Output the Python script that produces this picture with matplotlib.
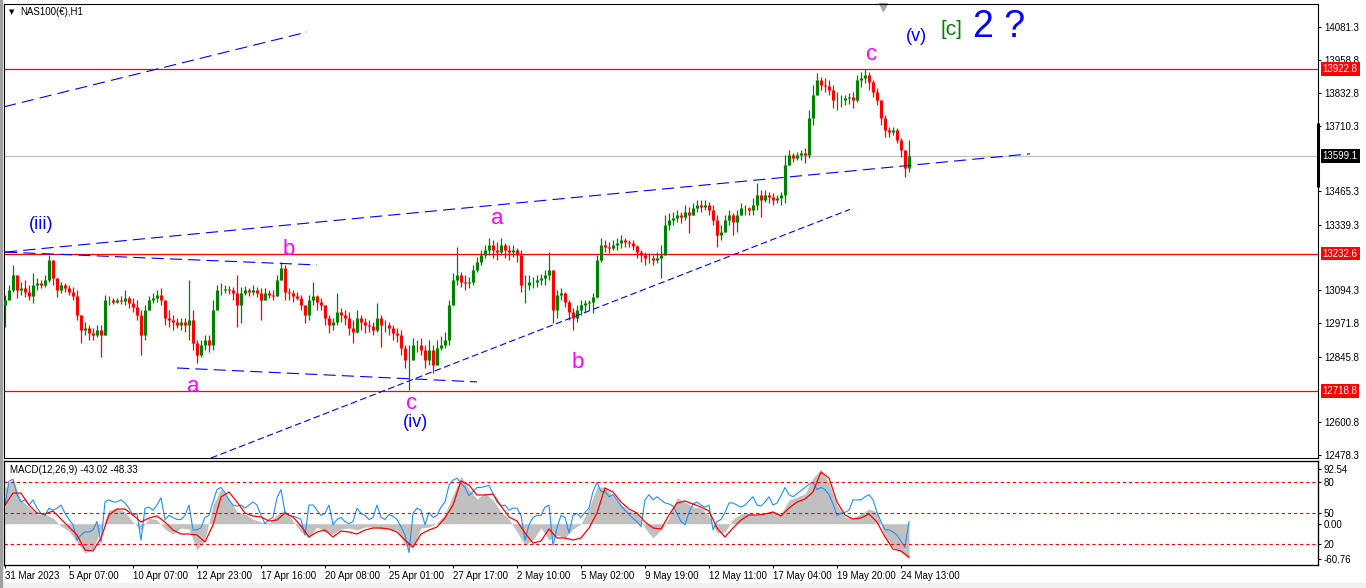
import numpy as np
import matplotlib
matplotlib.use("Agg")
import matplotlib.pyplot as plt
from matplotlib.patches import Rectangle
from matplotlib.transforms import blended_transform_factory

plt.rcParams['font.family'] = ['Liberation Sans', 'DejaVu Sans']

SYMBOL = "NAS100(€),H1"
MACD_TITLE = "MACD(12,26,9) -43.02 -48.33"

# price bars (one bar per slot, hourly NAS100)
FIRST_OPEN = 13040
HIGH = [
    13077, 13115, 13190, 13134, 13126, 13134, 13115, 13160, 13141, 13134,
    13152, 13227, 13208, 13134, 13126, 13122, 13115, 13107, 13096, 12984,
    12976, 12965, 12954, 12965, 12965, 13077, 13074, 13066, 13066, 13074,
    13096, 13074, 13066, 13059, 13021, 13040, 13074, 13085, 13096, 13104,
    13059, 13021, 13002, 12991, 12991, 12991, 13134, 13021, 12909, 12909,
    12928, 12928, 13059, 13115, 13122, 13115, 13111, 13107, 13152, 13107,
    13111, 13104, 13115, 13107, 13104, 13104, 13096, 13096, 13152, 13201,
    13190, 13104, 13096, 13089, 13077, 13040, 13077, 13126, 13077, 13066,
    13040, 13002, 12991, 13085, 13029, 13021, 13014, 12984, 13021, 13002,
    12991, 12984, 12976, 13047, 13002, 12984, 12976, 12965, 12954, 12946,
    12890, 12890, 12916, 12909, 12916, 12890, 12909, 12890, 12909, 12924,
    12939, 13059, 13160, 13257, 13163, 13152, 13145, 13190, 13220, 13246,
    13265, 13291, 13283, 13276, 13291, 13272, 13265, 13265, 13253, 13246,
    13152, 13152, 13145, 13152, 13156, 13171, 13238, 13152, 13096, 13104,
    13089, 13059, 13029, 13040, 13059, 13059, 13059, 13085, 13227, 13291,
    13283, 13276, 13283, 13291, 13302, 13291, 13283, 13283, 13265, 13246,
    13238, 13235, 13227, 13238, 13265, 13377, 13384, 13388, 13396, 13388,
    13414, 13407, 13422, 13433, 13433, 13433, 13426, 13414, 13377, 13340,
    13377, 13396, 13384, 13396, 13422, 13414, 13407, 13441, 13497, 13471,
    13471, 13463, 13459, 13452, 13463, 13602, 13620, 13609, 13613, 13620,
    13628, 13770, 13864, 13909, 13894, 13890, 13882, 13864, 13838, 13826,
    13826, 13834, 13838, 13901, 13912, 13924, 13912, 13882, 13853, 13808,
    13751, 13707, 13707, 13703, 13665, 13620, 13658,
]
LOW = [
    12957, 13059, 13089, 13066, 13077, 13070, 13059, 13047, 13096, 13104,
    13107, 13126, 13115, 13070, 13085, 13089, 13077, 13059, 12984, 12898,
    12928, 12909, 12909, 12920, 12845, 12928, 13040, 13044, 13047, 13044,
    13040, 13029, 13014, 12984, 12853, 12909, 13021, 13047, 13051, 13040,
    12965, 12957, 12946, 12954, 12946, 12939, 12909, 12871, 12823, 12845,
    12871, 12864, 12871, 13021, 13077, 13085, 13081, 13059, 12957, 12972,
    13077, 13074, 13077, 13070, 12984, 13059, 13066, 13059, 13077, 13134,
    13059, 13059, 13051, 13059, 13021, 12972, 12984, 13040, 13021, 13021,
    12965, 12935, 12946, 12965, 12976, 12965, 12928, 12898, 12935, 12946,
    12935, 12939, 12928, 12939, 12883, 12939, 12928, 12909, 12901, 12853,
    12804, 12722, 12834, 12864, 12853, 12804, 12815, 12785, 12853, 12871,
    12879, 12890, 13040, 13115, 13107, 13096, 13104, 13115, 13163, 13190,
    13216, 13227, 13216, 13208, 13227, 13216, 13208, 13220, 13201, 13089,
    13047, 13096, 13104, 13107, 13115, 13115, 13134, 12972, 12991, 13059,
    13032, 12984, 12946, 12976, 13002, 13014, 13021, 13010, 13066, 13201,
    13238, 13235, 13246, 13246, 13253, 13257, 13257, 13246, 13216, 13201,
    13190, 13197, 13190, 13197, 13141, 13227, 13321, 13340, 13351, 13347,
    13358, 13310, 13377, 13388, 13388, 13396, 13377, 13340, 13257, 13283,
    13313, 13340, 13302, 13313, 13377, 13377, 13377, 13377, 13396, 13369,
    13426, 13422, 13414, 13422, 13414, 13422, 13575, 13575, 13583, 13583,
    13572, 13590, 13714, 13826, 13845, 13838, 13826, 13778, 13770, 13781,
    13789, 13793, 13778, 13800, 13856, 13871, 13845, 13819, 13789, 13714,
    13669, 13669, 13677, 13647, 13594, 13519, 13538,
]
CLOSE = [
    13059, 13096, 13152, 13096, 13104, 13089, 13074, 13115, 13122, 13115,
    13134, 13208, 13141, 13096, 13115, 13104, 13089, 13074, 13002, 12946,
    12954, 12935, 12928, 12946, 12928, 13059, 13059, 13051, 13059, 13055,
    13066, 13047, 13032, 13002, 12928, 13021, 13059, 13066, 13077, 13059,
    12991, 12984, 12976, 12965, 12976, 12965, 12984, 12898, 12853, 12890,
    12909, 12890, 13021, 13096, 13096, 13100, 13096, 13085, 13040, 13085,
    13096, 13089, 13096, 13085, 13059, 13085, 13077, 13074, 13134, 13178,
    13089, 13085, 13074, 13066, 13040, 13002, 13059, 13074, 13051, 13040,
    12991, 12965, 12976, 13014, 13002, 12991, 12954, 12939, 12991, 12976,
    12965, 12961, 12946, 12991, 12965, 12965, 12954, 12935, 12928, 12879,
    12834, 12834, 12890, 12890, 12871, 12834, 12871, 12815, 12879, 12890,
    12909, 13040, 13134, 13152, 13126, 13122, 13126, 13171, 13201, 13227,
    13246, 13265, 13246, 13238, 13265, 13246, 13238, 13246, 13227, 13115,
    13115, 13126, 13126, 13134, 13141, 13152, 13171, 13021, 13077, 13085,
    13051, 13014, 12991, 13021, 13040, 13047, 13051, 13070, 13208, 13265,
    13257, 13253, 13265, 13272, 13283, 13276, 13272, 13261, 13238, 13227,
    13216, 13216, 13208, 13216, 13227, 13340, 13358, 13366, 13377, 13369,
    13388, 13377, 13403, 13414, 13407, 13414, 13396, 13358, 13302, 13313,
    13358, 13377, 13351, 13377, 13403, 13403, 13396, 13414, 13452, 13433,
    13452, 13444, 13433, 13441, 13452, 13564, 13602, 13590, 13602, 13609,
    13602, 13740, 13826, 13882, 13864, 13860, 13845, 13808, 13808, 13808,
    13815, 13819, 13808, 13882, 13890, 13901, 13875, 13838, 13808, 13740,
    13695, 13688, 13695, 13658, 13620, 13553, 13599.1,
]

# MACD panel, sampled every second bar
MACD_HIST = [
    60.7, 76, 40.3, 28.4, 16.5, 16.5, 9.7, -3.9, -12.4, -31.1,
    -49.8, -43, -10.7, 23.3, 26.7, 19.9, 2.9, -10.7, 9.7, 6.3,
    -9, -17.5, -7.3, -9, -44.7, -27.7, 31.8, 59, 42, 19.9,
    16.5, 8, 2.9, 1.2, 14.8, 23.3, 4.6, -14.1, -24.3, -5.6,
    -14.1, -17.5, -9, -7.3, -10.7, -5.6, -5.6, -9, -9, -10.7,
    -36.2, -41.3, -7.3, -5.6, 1.2, 16.5, 48.8, 81.1, 59, 42,
    52.2, 40.3, 19.9, 8, -14.1, -36.2, -27.7, -7.3, -27.7, -19.2,
    -24.3, -9, -0.5, 26.7, 62.4, 62.4, 47.1, 33.5, 21.6, 18.2,
    -7.3, -24.3, -10.7, 9.7, 43.7, 36.9, 28.4, 26.7, 13.1, -15.8,
    -14.1, 8, 16.5, 18.2, 14.8, 18.2, 21.6, 16.5, 40.3, 45.4,
    50.5, 77.7, 92.5, 69.2, 31.8, 11.4, 9.7, 16.5, 25, 19.9,
    -22.6, -39.6, -48.1, -60.8,
]
MACD_SIGNAL = [
    31.8, 52, 52, 31.8, 18.2, 16.5, 21.6, 8, -5.6, -19.2,
    -44.7, -46.4, -24.3, 14.8, 25, 25, 14.8, 2.9, 9.7, 13.1,
    2.9, -10.7, -17.5, -17.5, -19.2, -31.1, -2.2, 45.4, 53.9, 36.9,
    18.2, 13.1, 11.4, 4.6, 6.3, 18.2, 11.4, -3.9, -22.6, -14.1,
    -10.7, -22.6, -12.4, -14.1, -17.5, -10.7, -7.3, -7.3, -9, -14.1,
    -27.7, -39.6, -17.5, -10.7, -5.6, 9.7, 31.8, 72.6, 65.8, 48.8,
    48.8, 50.5, 30.1, 11.4, 4.6, -15.8, -32.8, -29.4, -9, -24.3,
    -24.3, -27.7, -24.3, -7.3, 18.2, 60.7, 53.9, 36.9, 25, 18.2,
    2.9, -7.3, -9, 14.8, 35.2, 38.6, 33.5, 28.4, 21.6, -7.3,
    -22.6, -7.3, 6.3, 14.8, 14.8, 16.5, 19.9, 13.1, 26.7, 36.9,
    42, 53.9, 87.9, 77.7, 36.9, 14.8, 8, 9.7, 16.5, 2.9,
    -22.6, -43, -46.4, -56.6,
]
# oscillator line (0-100 scale) one value per bar
OSC_LINE = [
    58, 81, 83, 68, 61, 63, 58, 63, 55, 50,
    48, 55, 53, 55, 58, 50, 44, 39, 24, 29,
    32, 32, 34, 42, 22, 61, 63, 61, 61, 63,
    60, 55, 48, 50, 24, 55, 56, 53, 58, 65,
    44, 48, 46, 44, 44, 48, 58, 34, 34, 36,
    46, 48, 61, 73, 75, 70, 63, 58, 57, 58,
    55, 58, 61, 58, 48, 40, 44, 46, 65, 73,
    51, 48, 47, 46, 44, 29, 58, 58, 53, 48,
    50, 58, 39, 44, 46, 42, 40, 42, 55, 50,
    48, 44, 46, 58, 46, 44, 49, 47, 44, 37,
    29, 12, 50, 55, 53, 39, 51, 46, 48, 56,
    61, 77, 82, 84, 79, 75, 67, 71, 75, 75,
    76, 77, 69, 61, 57, 58, 53, 55, 55, 48,
    24, 39, 46, 48, 48, 56, 58, 19, 36, 48,
    46, 31, 48, 50, 46, 51, 55, 71, 80, 71,
    71, 66, 68, 63, 57, 53, 49, 45, 42, 37,
    63, 68, 63, 66, 63, 60, 59, 57, 50, 42,
    39, 51, 59, 61, 58, 56, 58, 34, 42, 44,
    51, 60, 60, 58, 56, 58, 62, 66, 58, 57,
    61, 66, 58, 60, 67, 75, 68, 66, 69, 72,
    75, 78, 80, 73, 75, 73, 68, 59, 48, 50,
    51, 53, 63, 63, 63, 66, 68, 63, 51, 42,
    34, 34, 32, 29, 23, 17, 42,
]
OSC_LEVELS = [80, 50, 20]

DATE_LABELS = [
    "31 Mar 2023", "5 Apr 07:00", "10 Apr 07:00", "12 Apr 23:00",
    "17 Apr 16:00", "20 Apr 08:00", "25 Apr 01:00", "27 Apr 17:00",
    "2 May 10:00", "5 May 02:00", "9 May 19:00", "12 May 11:00",
    "17 May 04:00", "19 May 20:00", "24 May 13:00",
]
DATE_STEP = 16  # bars between date labels

# price scale labels (the ones hidden behind the level boxes are left out)
PRICE_TICKS = [14081.3, 13958.8, 13832.8, 13710.3, 13465.3, 13339.3,
               13094.3, 12971.8, 12845.8, 12600.8, 12478.3]
MACD_TICKS = [92.54, 0.0, -60.76]

RED_LEVELS = [13922.8, 13232.6, 12718.8]
LAST_PRICE = 13599.1
LAST_RANGE = (13482, 13721)

# trend lines: (bar, price) -> (bar, price), dash kind
TRENDLINES = [
    ((-0.25, 13782), (75.5, 14062), "long"),
    ((0, 13238), (256.25, 13606), "long"),
    ((0, 13238), (78, 13190), "long"),
    ((43, 12804), (118, 12752), "long"),
    ((51.5, 12467), (211.25, 13398), "short"),
]

MAGENTA = "#ff00ff"
BLUE = "#0000ff"
WAVE_LABELS = [
    ("(iii)", 9, 13324, BLUE, 13),
    ("b", 71, 13227, MAGENTA, 16),
    ("a", 47, 12714, MAGENTA, 16),
    ("c", 101.75, 12650, MAGENTA, 16),
    ("(iv)", 102.5, 12583, BLUE, 13),
    ("a", 123, 13343, MAGENTA, 16),
    ("b", 143.25, 12804, MAGENTA, 16),
    ("c", 216.75, 13958, MAGENTA, 16),
    ("(v)", 227.75, 14029, BLUE, 13),
    ("[c]", 236.5, 14051, "#008000", 15),
    ("2 ?", 248.4, 14044, BLUE, 27),
]

W, H = 1366, 588
fig = plt.figure(figsize=(W / 100, H / 100), dpi=100)
fig.patches.append(Rectangle((0, 0), 1, 5 / H, transform=fig.transFigure,
                             color="#f0f0f0", zorder=0))
fig.patches.append(Rectangle((0, 0), 2 / W, 1, transform=fig.transFigure,
                             color="#a0a0a0", zorder=0))

ax = fig.add_axes([4 / W, 1 - 458 / H, 1314 / W, 454 / H])
ax_m = fig.add_axes([4 / W, 1 - 565 / H, 1314 / W, 104 / H], sharex=ax)

n = len(CLOSE)
x = np.arange(n)
close = np.array(CLOSE, dtype=float)
opens = np.concatenate([[FIRST_OPEN], close[:-1]])
high = np.maximum(np.array(HIGH, dtype=float), np.maximum(opens, close))
low = np.minimum(np.array(LOW, dtype=float), np.minimum(opens, close))
colors = np.where(close >= opens, "#008000", "#ff0000")

ax.vlines(x, low, high, colors=colors, lw=0.9, zorder=3)
ax.vlines(x, np.minimum(opens, close), np.maximum(opens, close),
          colors=colors, lw=2.3, zorder=3)

for lv in RED_LEVELS:
    ax.axhline(lv, color="#ff0000", lw=0.9, zorder=2)
ax.axhline(LAST_PRICE, color="#c0c0c0", lw=0.9, zorder=1)

for (x0, y0), (x1, y1), kind in TRENDLINES:
    dash = (0, (11, 5.5)) if kind == "long" else (0, (6, 3))
    ax.plot([x0, x1], [y0, y1], color=BLUE, lw=0.8, ls=dash, zorder=4)

for txt, bx, py, col, fs in WAVE_LABELS:
    ax.text(bx, py, txt, color=col, fontsize=fs, ha="center", va="baseline",
            zorder=6)

ax.set_xlim(-0.25, 328.25)
ax.set_ylim(12467, 14167)
ax.yaxis.tick_right()
ax.set_yticks(PRICE_TICKS)
ax.set_yticklabels([f"{t:.1f}" for t in PRICE_TICKS])
ax.tick_params(axis="y", direction="out", length=2.2, width=0.8, pad=2,
               labelsize=7)
ax.tick_params(axis="x", bottom=False, labelbottom=False)

trans = blended_transform_factory(ax.transAxes, ax.transData)
for lv in RED_LEVELS:
    ax.text(1.0035, lv, f"{lv:.1f}", transform=trans, color="white",
            fontsize=7, ha="left", va="center", clip_on=False, zorder=10,
            bbox=dict(boxstyle="square,pad=0.2", fc="#ff0000", ec="none"))
ax.text(1.0035, LAST_PRICE, f"{LAST_PRICE:.1f}", transform=trans,
        color="white", fontsize=7, ha="left", va="center", clip_on=False,
        zorder=10, bbox=dict(boxstyle="square,pad=0.2", fc="black", ec="none"))
ax.plot([1.0, 1.0], LAST_RANGE, transform=trans, color="black", lw=2.2,
        clip_on=False, solid_capstyle="butt", zorder=9)

ax.plot(219.5, 0.993, marker="v", ms=6, color="#a8a8a8", clip_on=False,
        transform=blended_transform_factory(ax.transData, ax.transAxes))
ax.text(0.006, 0.982, "▼", transform=ax.transAxes, fontsize=5,
        ha="center", va="center", family=["DejaVu Sans"])
ax.text(0.0122, 0.982, SYMBOL, transform=ax.transAxes, fontsize=7,
        ha="left", va="center")

# MACD / oscillator panel
xm = np.arange(0, n, 2)
ax_s = ax_m.twinx()
ax_top = ax_m.twinx()

ax_m.fill_between(xm, 0, MACD_HIST, color="#c0c0c0", lw=0)
ax_s.plot(x, OSC_LINE, color="#1e90ff", lw=0.8)
for lv in OSC_LEVELS:
    ax_s.axhline(lv, color="#ff0000", lw=0.8, ls=(0, (3, 2.5)))
ax_top.plot(xm, MACD_SIGNAL, color="#ff0000", lw=0.9)

ax_m.set_ylim(-70.2, 106.6)
ax_top.set_ylim(-70.2, 106.6)
ax_s.set_ylim(0, 100.6)

ax_m.yaxis.tick_right()
ax_m.set_yticks(MACD_TICKS)
ax_m.set_yticklabels([f"{t:.2f}" for t in MACD_TICKS])
ax_s.set_yticks(OSC_LEVELS)
ax_s.set_yticklabels([str(v) for v in OSC_LEVELS])
ax_top.set_yticks([])
for a in (ax_m, ax_s):
    a.tick_params(axis="y", direction="out", length=2.2, width=0.8, pad=2,
                  labelsize=7)

ax_m.set_xticks(np.arange(len(DATE_LABELS)) * DATE_STEP)
ax_m.set_xticklabels(DATE_LABELS)
ax_m.tick_params(axis="x", direction="out", length=2.2, width=0.8, pad=2,
                 labelsize=7)
for lbl in ax_m.get_xticklabels():
    lbl.set_ha("left")

ax_m.text(0.0046, 0.913, MACD_TITLE, transform=ax_m.transAxes, fontsize=7,
          ha="left", va="center")

for a in (ax, ax_m, ax_s, ax_top):
    for sp in a.spines.values():
        sp.set_linewidth(0.8)
        sp.set_color("black")

fig.savefig("out.png", dpi=100)
